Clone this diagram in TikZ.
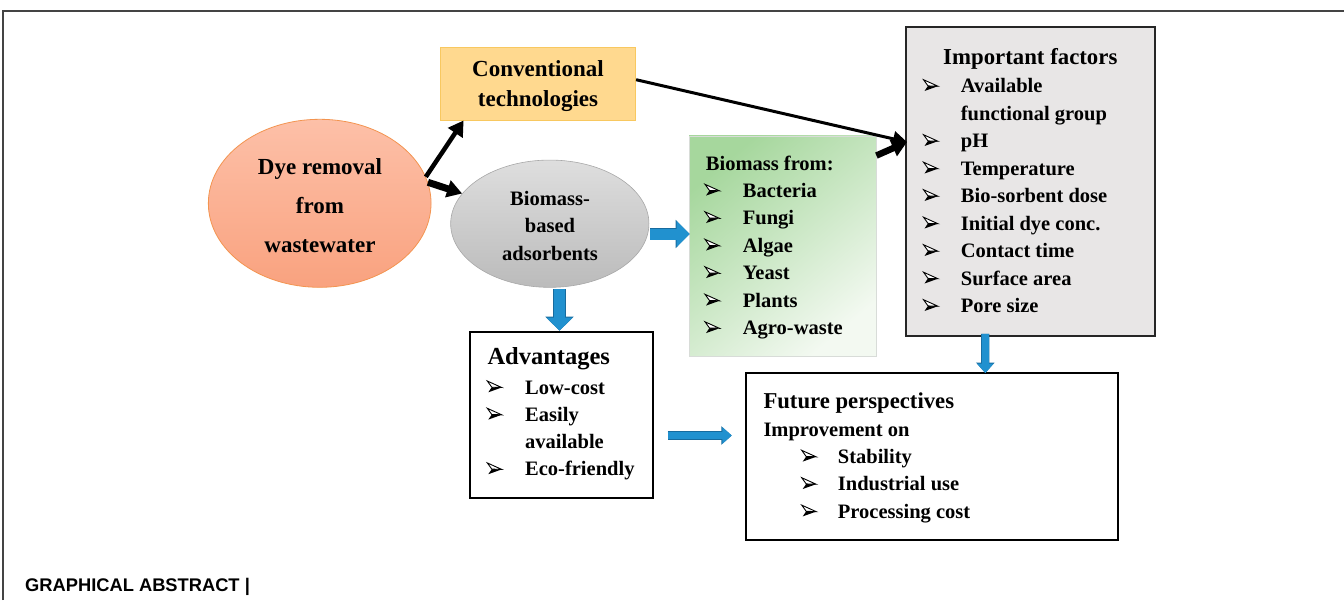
\documentclass[tikz,border=0pt]{standalone}
\usepackage{fontspec}
\setmainfont{Liberation Serif}
\newfontfamily\arialfont{Liberation Sans}
\usetikzlibrary{shapes.geometric,arrows.meta,calc}
\definecolor{dyetop}{HTML}{FDC0A8}
\definecolor{dyebot}{HTML}{F9A27F}
\definecolor{dyeline}{HTML}{F39450}
\definecolor{convfill}{HTML}{FFD98F}
\definecolor{convline}{HTML}{F8C860}
\definecolor{biotop}{HTML}{DEDEDE}
\definecolor{biobot}{HTML}{BBBBBB}
\definecolor{bioline}{HTML}{A8A8A8}
\definecolor{greentop}{HTML}{A6D79D}
\definecolor{greenbot}{HTML}{F3F9F1}
\definecolor{greenline}{HTML}{D8DCD8}
\definecolor{impfill}{HTML}{E8E6E6}
\definecolor{arrowblue}{HTML}{2191CF}
\definecolor{arrowdark}{HTML}{176B9E}
\definecolor{framecol}{HTML}{444444}
\tikzset{
  txt/.style={inner sep=0pt, font=\bfseries\fontsize{20.5}{24}\selectfont},
  bigtxt/.style={inner sep=0pt, font=\bfseries\fontsize{23}{26}\selectfont},
  arrowbullet/.pic={
    \fill[black] (4.5,6.2) -- (14.4,6.5) -- (1,11.3) -- cycle;
    \draw[black, line width=0.9pt, line join=miter, fill=white] (0,0) -- (14.4,6.5) -- (4.5,6.2) -- cycle;
  },
  plainbox/.style={draw=black, line width=2pt, fill=white, inner sep=0pt},
  blk/.style={draw=black, -{Triangle[width=17pt,length=15pt]}},
  bigblue/.style={draw=arrowblue, line width=11pt, -{Triangle[width=25pt,length=13pt]},
    preaction={draw=arrowdark, line width=12.5pt, -{Triangle[width=27.5pt,length=14pt]}}},
  smallblue/.style={draw=arrowblue, line width=7pt, -{Triangle[width=16pt,length=9.5pt]},
    preaction={draw=arrowdark, line width=8.2pt, -{Triangle[width=18pt,length=10.5pt]}}}
}
\begin{document}
\begin{tikzpicture}[x=1pt,y=-1pt]
\useasboundingbox (0,0) rectangle (1344,600);
% frame
\draw[framecol, line width=1.3pt] (3,600) -- (3,11) -- (1344,11);

% shapes
\node[ellipse, inner sep=0pt, minimum width=222.7pt, minimum height=168pt,
  top color=dyetop, bottom color=dyebot, draw=dyeline, line width=0.8pt] (dye) at (319.7,203.3) {};
\node[rectangle, inner sep=0pt, minimum width=195pt, minimum height=72.7pt,
  fill=convfill, draw=convline, line width=0.8pt] (conv) at (538.2,83.7) {};
\node[ellipse, inner sep=0pt, minimum width=198.3pt, minimum height=127.3pt,
  top color=biotop, bottom color=biobot, draw=bioline, line width=0.6pt] (bio) at (549.8,223.7) {};
\node[rectangle, inner sep=0pt, minimum width=187pt, minimum height=220.7pt,
  top color=greentop, bottom color=greenbot, shading angle=40, draw=greenline, line width=0.8pt] (green) at (782.5,246.3) {};
\node[rectangle, inner sep=0pt, minimum width=249pt, minimum height=308.7pt,
  fill=impfill, draw=black!85, line width=2pt] (imp) at (1030.7,181.7) {};
\node[plainbox, minimum width=182.7pt, minimum height=166pt] (adv) at (561.3,415.3) {};
\node[plainbox, minimum width=371.7pt, minimum height=166.7pt] (fut) at (931.9,456.7) {};

% black arrows
\coordinate (impin) at (907,142);
\draw[blk, line width=4.5pt] (dye.14) -- ([xshift=23.3pt]conv.south west);
\draw[blk, line width=7pt] (dye.11) -- (bio.161);
\draw[blk, line width=3pt, -{Triangle[width=15pt,length=14pt]}] ([yshift=4pt]conv.east) -- (impin);
\draw[blk, line width=6.5pt] ([yshift=-20pt]green.north east) -- (impin);

% blue block arrows
\draw[bigblue] ($(bio.east)+(1,10.3)$) -- ($(green.west)+(1,-12.3)$);
\draw[bigblue] ($(bio.south)+(9.7,1.7)$) -- ($(adv.north)+(-1.8,-0.6)$);
\draw[smallblue] ($(adv.east)+(14,20.2)$) -- ($(fut.west)+(-13.3,-21.2)$);
\draw[smallblue] ($(imp.south)+(-45.4,-3.3)$) -- ($(fut.north)+(53.4,0.7)$);

% texts: dye removal
\node[bigtxt, anchor=base] (dye-t1) at (320,174) {Dye removal};
\node[bigtxt, anchor=base] (dye-t2) at (320,213.3) {from};
\node[bigtxt, anchor=base] (dye-t3) at (320,252.3) {wastewater};
% conventional
\node[bigtxt, anchor=base] (conv-t1) at (538,76.7) {Conventional};
\node[bigtxt, anchor=base] (conv-t2) at (538,106) {technologies};
% biomass based
\node[txt, anchor=base] (bio-t1) at (550,205) {Biomass-};
\node[txt, anchor=base] (bio-t2) at (550,232.7) {based};
\node[txt, anchor=base] (bio-t3) at (550,260) {adsorbents};

% green list
\node[txt, anchor=base west] (green-title) at (705.7,170) {Biomass from:};
\foreach \t [count=\i from 0] in {Bacteria,Fungi,Algae,Yeast,Plants,Agro-waste} {
  \pic at (705,197.3+27.5*\i-13) {arrowbullet};
  \node[txt, anchor=base west] (green-t\i) at (742.7,197.3+27.5*\i) {\t};
}

% important factors
\node[inner sep=0pt, font=\bfseries\fontsize{22.8}{26}\selectfont, anchor=base] (imp-title) at (1030.3,64.3) {Important factors};
\foreach \t/\b [count=\i from 0] in {Available/1,functional group/0,pH/1,Temperature/1,Bio-sorbent dose/1,Initial dye conc./1,Contact time/1,Surface area/1,Pore size/1} {
  \ifnum\b=1
    \pic at (923.5,92.7+27.5*\i-13) {arrowbullet};
  \fi
  \node[txt, anchor=base west] (imp-t\i) at (960.7,92.7+27.5*\i) {\t};
}

% advantages
\node[inner sep=0pt, font=\bfseries\fontsize{24.5}{28}\selectfont, anchor=base west] (adv-title) at (487.3,364) {Advantages};
\foreach \t/\b [count=\i from 0] in {Low-cost/1,Easily/1,available/0,Eco-friendly/1} {
  \ifnum\b=1
    \pic at (487.3,394+27.3*\i-13) {arrowbullet};
  \fi
  \node[txt, anchor=base west] (adv-t\i) at (525,394+27.3*\i) {\t};
}

% future perspectives
\node[inner sep=0pt, font=\bfseries\fontsize{22.7}{26}\selectfont, anchor=base west] (fut-title) at (763.3,408.3) {Future perspectives};
\node[txt, anchor=base west] (fut-sub) at (763.3,436) {Improvement on};
\foreach \t [count=\i from 0] in {Stability,Industrial use,Processing cost} {
  \pic at (801.7,463.3+27.4*\i-13) {arrowbullet};
  \node[txt, anchor=base west] (fut-t\i) at (837.7,463.3+27.4*\i) {\t};
}

% caption
\node[inner sep=0pt, anchor=base west, font=\arialfont\bfseries\fontsize{18.3}{22}\selectfont] (caption) at (25,591) {GRAPHICAL ABSTRACT |};
\end{tikzpicture}
\end{document}
